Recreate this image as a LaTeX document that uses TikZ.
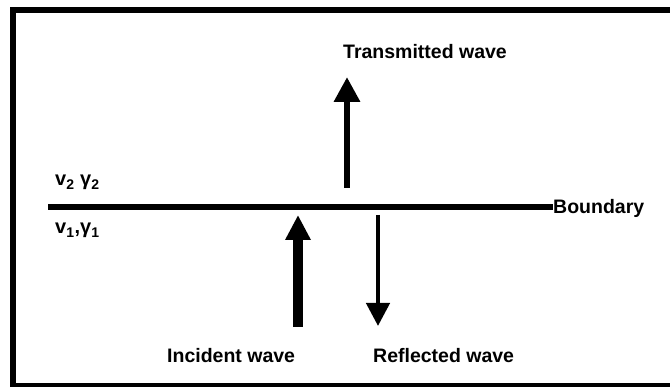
\documentclass[tikz,border=0pt]{standalone}
\usepackage{fontspec}
\setmainfont{Liberation Sans}
\usetikzlibrary{arrows.meta}
\begin{document}
\begin{tikzpicture}[x=1pt,y=-1pt,
  lbl/.style={font=\fontsize{19.5}{22}\selectfont\bfseries, inner sep=0pt, anchor=base west},
  med/.style={font=\fontsize{20}{22}\selectfont\bfseries, inner sep=0pt, anchor=base west},
  frame/.style={line width=6pt},
  bound/.style={line width=6pt}]
\useasboundingbox (0,0) rectangle (670,387);
\clip (0,0) rectangle (670,387);
\draw[frame] (12.5,10) rectangle (720,386);
% boundary
\coordinate (bl) at (48,207);
\node[lbl] (bnd) at (553,214) {Boundary};
\draw[bound] (bl) -- (bl -| bnd.west);
% media labels
\node[med] (m2) at (55,186) {v\textsubscript{2} γ\textsubscript{2}};
\node[med] (m1) at (55,234) {v\textsubscript{1},γ\textsubscript{1}};
% transmitted
\coordinate (t0) at (347,188);
\coordinate (t1) at (347,77);
\draw[line width=6.5pt, -{Triangle[length=25pt,width=25pt]}] (t0) -- (t1);
\node[lbl] (tl) at (343,59) {Transmitted wave};
% incident
\coordinate (i0) at (298,327);
\coordinate (i1) at (298,215);
\draw[line width=10.5pt, -{Triangle[length=25pt,width=24pt]}] (i0) -- (i1);
\node[lbl] (il) at (167,363) {Incident wave};
% reflected
\coordinate (r0) at (378,215);
\coordinate (r1) at (378,326);
\draw[line width=4.5pt, -{Triangle[length=23pt,width=23pt]}] (r0) -- (r1);
\node[lbl] (rl) at (373,363) {Reflected wave};
\end{tikzpicture}
\end{document}
